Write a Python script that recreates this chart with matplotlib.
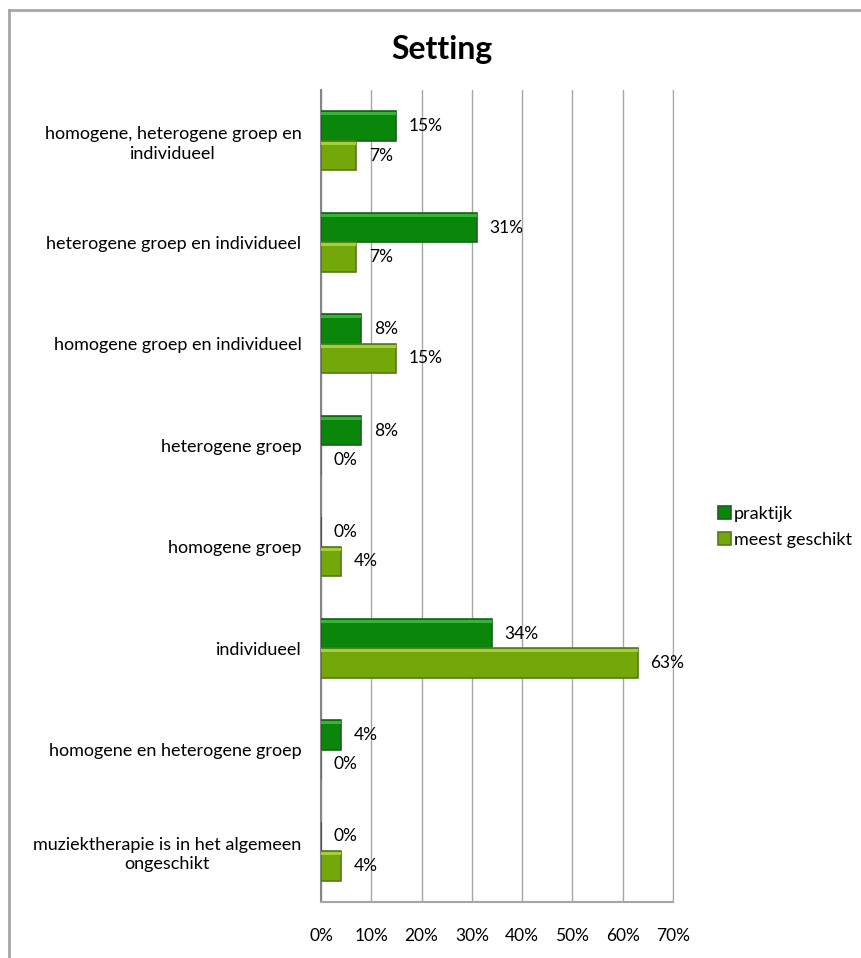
import matplotlib.pyplot as plt
from matplotlib.lines import Line2D
import numpy as np

plt.rcParams['font.family'] = ['Lato', 'DejaVu Sans']

# categorieen van boven naar onder
categorieen = ['homogene, heterogene groep en\nindividueel',
               'heterogene groep en individueel',
               'homogene groep en individueel',
               'heterogene groep',
               'homogene groep',
               'individueel',
               'homogene en heterogene groep',
               'muziektherapie is in het algemeen\nongeschikt']
praktijk = [15, 31, 8, 8, 0, 34, 4, 0]
meest_geschikt = [7, 7, 15, 0, 4, 63, 0, 4]
xticks = [0, 10, 20, 30, 40, 50, 60, 70]

kleur_prak = '#0a870a'
rand_prak = '#17621a'
licht_prak = '#35b535'
kleur_meest = '#73a70a'
rand_meest = '#56781c'
licht_meest = '#9fd236'

fig = plt.figure(figsize=(8.61, 9.58), dpi=100)
ax = fig.add_axes([0.3728, 0.0585, 0.4088, 0.8475])

n = len(categorieen)
y = np.arange(n)
h = 0.29
b1 = ax.barh(y - h / 2, praktijk, height=h, color=kleur_prak,
             edgecolor=rand_prak, linewidth=1.2, zorder=3, label='praktijk')
b2 = ax.barh(y + h / 2, meest_geschikt, height=h, color=kleur_meest,
             edgecolor=rand_meest, linewidth=1.2, zorder=3, label='meest geschikt')
# lichte bovenrand (bevel effect)
ax.barh(y - h + 0.025, praktijk, height=0.03, color=licht_prak, linewidth=0, zorder=4)
ax.barh(y + 0.025, meest_geschikt, height=0.03, color=licht_meest, linewidth=0, zorder=4)

ax.bar_label(b1, labels=['%d%%' % v for v in praktijk], padding=9, fontsize=12.5)
ax.bar_label(b2, labels=['%d%%' % v for v in meest_geschikt], padding=9, fontsize=12.5)

ax.set_ylim(n - 0.5, -0.5)
ax.set_xlim(0, 70)
ax.set_yticks(y)
ax.set_yticklabels(categorieen, fontsize=13, multialignment='center', linespacing=1.25)
ax.set_xticks(xticks)
ax.set_xticklabels(['%d%%' % t for t in xticks], fontsize=12.5)
ax.tick_params(axis='y', length=0, pad=14)
ax.tick_params(axis='x', length=0, pad=19)

ax.grid(axis='x', color='#a6a6a6', linewidth=1, zorder=0)
ax.spines['top'].set_visible(False)
ax.spines['right'].set_color('#a6a6a6')
ax.spines['left'].set_color('#868686')
ax.spines['left'].set_linewidth(1.5)
ax.spines['bottom'].set_color('#a6a6a6')
ax.spines['bottom'].set_linewidth(1.5)

fig.text(0.513, 0.948, 'Setting', fontsize=23, fontweight='bold', ha='center', va='center')

fig.legend(handles=[b1, b2], loc='center left', bbox_to_anchor=(0.826, 0.45),
           frameon=False, fontsize=13, handlelength=0.7, handleheight=0.7,
           handletextpad=0.15, labelspacing=0.55, borderaxespad=0)

# kader rond de grafiek (valt deels buiten beeld)
fig.add_artist(Line2D([0.0105, 0.0105], [0, 0.9895], color='#a6a6a6', lw=2,
                      transform=fig.transFigure))
fig.add_artist(Line2D([0.0105, 1.0], [0.9895, 0.9895], color='#a6a6a6', lw=2,
                      transform=fig.transFigure))

fig.savefig('out.png', dpi=100)
